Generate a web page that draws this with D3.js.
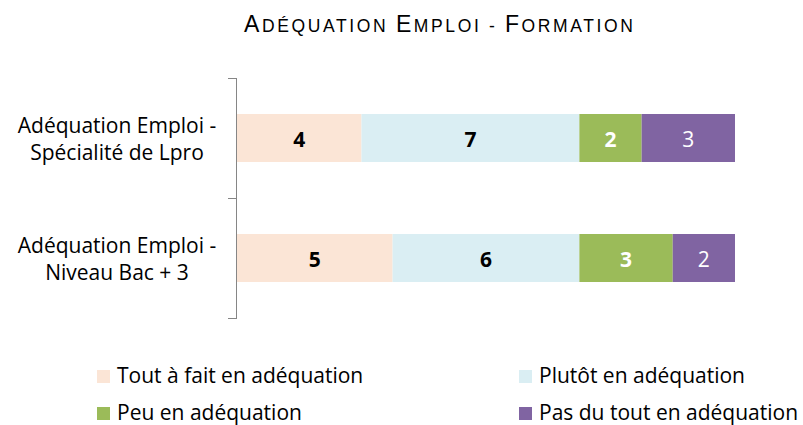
<!DOCTYPE html>
<html lang="fr">
<head>
    <meta charset="UTF-8">
    <title>Adéquation Emploi - Formation</title>
    <script src="https://cdn.jsdelivr.net/npm/d3@7"></script>
    <style>
        body { margin: 0; background: #fff; }
        .axis path, .axis line { fill: none; stroke: #868686; shape-rendering: crispEdges; }
        .axis text { display: none; }
        .cat { font-family: "Open Sans", sans-serif; font-size: 21px; fill: #000; text-anchor: middle; }
        .legend text { font-family: "Open Sans", sans-serif; font-size: 21px; fill: #000; }
    </style>
</head>
<body>
<script>
    var width = 803, height = 425;

    // données
    var categories = ["Adéquation Emploi - Spécialité de Lpro", "Adéquation Emploi - Niveau Bac + 3"];
    var catLines = [["Adéquation Emploi -", "Spécialité de Lpro"], ["Adéquation Emploi -", "Niveau Bac + 3"]];
    var series = ["Tout à fait en adéquation", "Plutôt en adéquation", "Peu en adéquation", "Pas du tout en adéquation"];
    var toutAFait = [4, 5];
    var plutot = [7, 6];
    var peu = [2, 3];
    var pasDuTout = [3, 2];
    var colors = ["#FBE5D6", "#DAEEF3", "#9BBB59", "#8064A2"];
    var labelColors = ["#000", "#000", "#fff", "#fff"];
    var labelWeights = ["bold", "bold", "bold", "normal"];
    var titre = "Adéquation Emploi - Formation";

    var rows = categories.map(function (c, i) {
        return { cat: c, s0: toutAFait[i], s1: plutot[i], s2: peu[i], s3: pasDuTout[i] };
    });
    var stack = d3.stack().keys(["s0", "s1", "s2", "s3"])(rows);

    var svg = d3.select("body").append("svg")
        .attr("width", width).attr("height", height);

    // titre en petites capitales
    var title = svg.append("text")
        .attr("x", 244).attr("y", 32)
        .attr("textLength", 389).attr("lengthAdjust", "spacing")
        .style("font-family", "'Liberation Sans', Arial, sans-serif")
        .style("fill", "#000");
    titre.split("").forEach(function (ch) {
        var big = ch !== ch.toLowerCase();
        title.append("tspan")
            .style("font-size", big ? "23px" : "17.5px")
            .text(ch.toUpperCase());
    });

    var plot = { left: 236, right: 735, top: 78, bottom: 318 };

    var x = d3.scaleLinear()
        .domain([0, d3.max(rows, function (d) { return d.s0 + d.s1 + d.s2 + d.s3; })])
        .range([plot.left + 1, plot.right]);

    var y = d3.scaleBand()
        .domain(categories)
        .range([plot.top, plot.bottom])
        .paddingInner(0.6).paddingOuter(0.3);

    var yAxis = d3.axisLeft(y).tickSize(8).tickSizeOuter(8);
    var gAxis = svg.append("g")
        .attr("class", "axis")
        .attr("transform", "translate(" + (plot.left - 0.5) + ",0)")
        .call(yAxis);
    // ticks entre les catégories
    gAxis.selectAll(".tick").remove();
    gAxis.selectAll(".sep")
        .data([plot.top, (plot.top + plot.bottom) / 2, plot.bottom])
        .enter().append("line")
        .attr("x1", -8).attr("x2", 0)
        .attr("y1", function (d) { return Math.round(d) + 0.5; })
        .attr("y2", function (d) { return Math.round(d) + 0.5; });

    var groups = svg.selectAll(".serie")
        .data(stack).enter().append("g")
        .attr("fill", function (d, i) { return colors[i]; });

    groups.selectAll("rect")
        .data(function (d) { return d; })
        .enter().append("rect")
        .attr("x", function (d) { return x(d[0]); })
        .attr("width", function (d) { return x(d[1]) - x(d[0]); })
        .attr("y", function (d) { return y(d.data.cat); })
        .attr("height", y.bandwidth());

    groups.each(function (s, i) {
        d3.select(this).selectAll("text")
            .data(s).enter().append("text")
            .attr("x", function (d) { return (x(d[0]) + x(d[1])) / 2; })
            .attr("y", function (d) { return y(d.data.cat) + y.bandwidth() / 2 + 8.5; })
            .attr("text-anchor", "middle")
            .style("font-family", "'Open Sans', sans-serif")
            .style("font-size", "21px")
            .style("font-weight", labelWeights[i])
            .attr("fill", labelColors[i])
            .text(function (d) { return d[1] - d[0]; });
    });

    // libellés des catégories
    categories.forEach(function (c, i) {
        var t = svg.append("text").attr("class", "cat")
            .attr("x", 117)
            .attr("y", y(c) + y.bandwidth() / 2 - 5);
        catLines[i].forEach(function (l, j) {
            t.append("tspan").attr("x", 117).attr("dy", j === 0 ? 0 : 27).text(l);
        });
    });

    // légende
    var legendPos = [[97, 383], [519, 383], [97, 420], [519, 420]];
    var legend = svg.selectAll(".legend")
        .data(series).enter().append("g")
        .attr("class", "legend")
        .attr("transform", function (d, i) { return "translate(" + legendPos[i][0] + "," + legendPos[i][1] + ")"; });
    legend.append("rect")
        .attr("y", -13).attr("width", 13).attr("height", 13)
        .attr("fill", function (d, i) { return colors[i]; });
    legend.append("text")
        .attr("x", 20)
        .text(function (d) { return d; });
</script>
</body>
</html>
